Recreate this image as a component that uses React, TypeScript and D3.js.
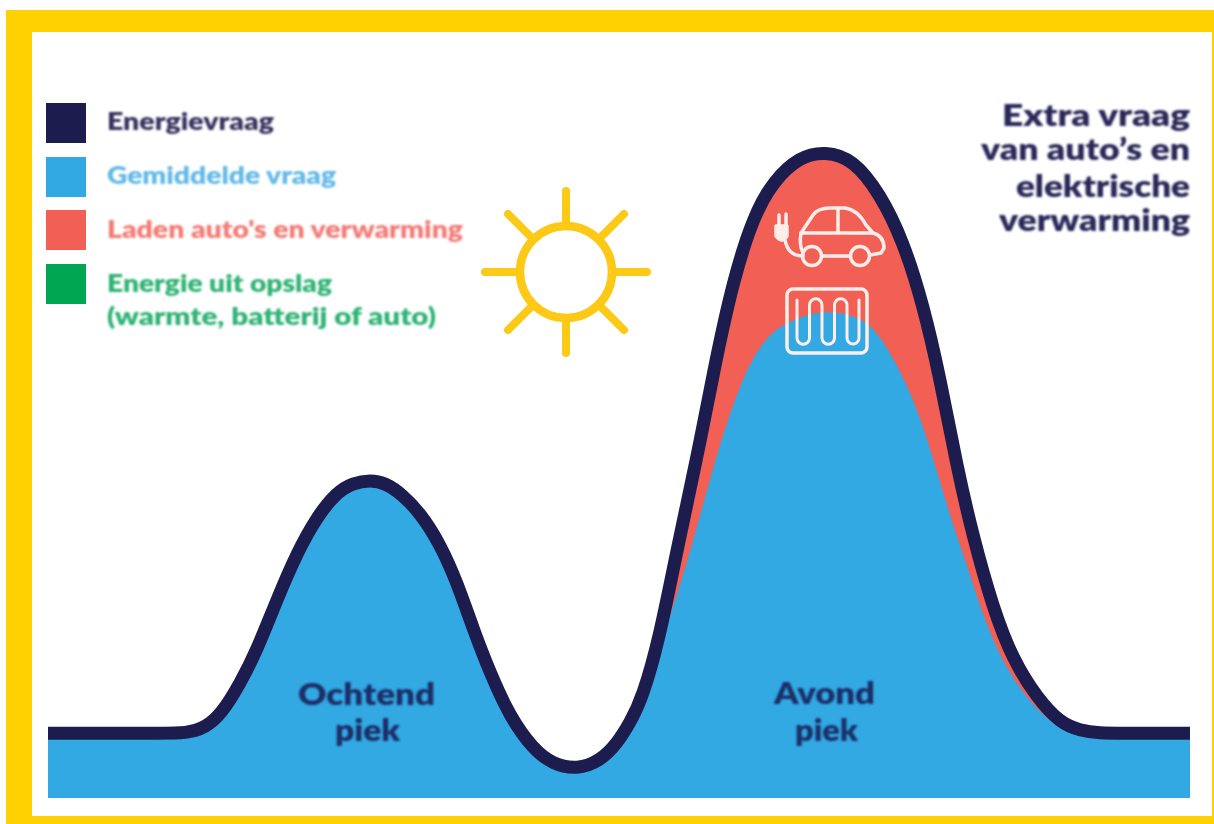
import React from "react";
import * as d3 from "d3";

const demandHours = [0, 1.2, 2.4, 2.9, 3.3, 3.65, 4.04, 4.39, 4.81, 5.23, 5.65, 6.07, 6.4, 6.77, 7.1, 7.45, 7.82, 8.24, 8.6, 8.93, 9.29, 9.71, 10.19, 10.61, 11.12, 11.6, 11.96, 12.23, 12.5, 12.86, 13.22, 13.64, 14.02, 14.4, 14.82, 15.24, 15.8, 16.33, 16.92, 17.49, 17.97, 18.39, 18.75, 19.1, 19.44, 19.86, 20.28, 20.79, 21.27, 21.69, 22.1, 22.6, 23.3, 24];
const demandValues = [10, 10, 10, 10, 10.8, 13, 17.7, 22.8, 30.6, 37.8, 43.4, 47.2, 48.6, 49.1, 48.6, 46.8, 44, 39.2, 33.2, 26.2, 19.3, 12.5, 7.6, 5.2, 4.4, 5.7, 8.4, 11.6, 15.6, 25, 38.4, 52.5, 67.1, 79.9, 89.7, 95.2, 99, 99.8, 98.6, 93.2, 86, 76.2, 64.7, 51.2, 40.3, 29.3, 21.3, 15.4, 11.6, 10.4, 10, 10, 10, 10];

const averageEveningHours = [12.5, 12.76, 13.07, 13.45, 13.98, 14.4, 14.82, 15.24, 15.55, 15.95, 16.45, 16.92, 17.34, 17.84, 18.26, 18.6, 18.96, 19.31, 19.73, 20.22, 20.64, 21.16, 21.69, 22.1, 22.6, 23.3, 24];
const averageEveningValues = [14.6, 20.5, 28.1, 36.6, 51.2, 61, 68.4, 72.1, 73.4, 74.6, 75.2, 74.4, 73, 67, 60.3, 52.5, 43.4, 36, 26.2, 19, 14.8, 11, 10, 10, 10, 10, 10];

const legendLabels = ["Energievraag", "Gemiddelde vraag", "Laden auto's en verwarming", "Energie uit opslag"];
const legendNote = "(warmte, batterij of auto)";
const extraLines = ["Extra vraag", "van auto’s en", "elektrische", "verwarming"];

const NAVY = "#1f1a4f";
const BLUE = "#31a9e3";
const RED = "#f15f55";
const GREEN = "#00a651";
const YELLOW = "#ffd100";
const SUN = "#fbc916";
const FONT = "Lato, 'Open Sans', sans-serif";

type P = [number, number];
const demand: P[] = demandHours.map((h, i) => [h, demandValues[i]]);
const morningCount = demandHours.findIndex((h) => h >= 12.5);
const average: P[] = [
  ...demand.slice(0, morningCount),
  ...averageEveningHours.map((h, i): P => [h, averageEveningValues[i]]),
];

const x = d3.scaleLinear().domain([0, 24]).range([48, 1190]);
const y = d3.scaleLinear().domain([0, 100]).range([798, 150]);
const curve = d3.curveBasis;
const areaGen = d3.area<P>().x((d) => x(d[0])).y0(y(0)).y1((d) => y(d[1])).curve(curve);
const lineGen = d3.line<P>().x((d) => x(d[0])).y((d) => y(d[1])).curve(curve);

const legendColors = [NAVY, BLUE, RED, GREEN];
const legendTextColors = ["#37325f", "#62b9e8", "#f47a74", "#2fb274"];
const legendTops = [103, 157, 210, 264];
const legendWidths = [167, 229, 356, 225];
const legendBase = [130, 184, 238, 292];
const extraBase = [126, 160, 197, 231];
const extraWidths = [188, 209, 174, 191];

const sunAngles = d3.range(0, 360, 45);

function Sun() {
  const cx = 566, cy = 272;
  return (
    <g stroke={SUN} fill="none" strokeLinecap="round">
      <circle cx={cx} cy={cy} r={46} strokeWidth={8.5} fill="#fff" />
      {sunAngles.map((a) => {
        const t = (a * Math.PI) / 180;
        const diag = a % 90 !== 0;
        const r0 = diag ? 50 : 47;
        const r1 = diag ? 82 : 81;
        return (
          <line key={a} x1={cx + r0 * Math.cos(t)} y1={cy + r0 * Math.sin(t)} x2={cx + r1 * Math.cos(t)} y2={cy + r1 * Math.sin(t)} strokeWidth={8} />
        );
      })}
    </g>
  );
}

function Icons() {
  return (
    <g fill="none" stroke="#fdeeea" strokeWidth={3.5} strokeLinecap="round" strokeLinejoin="round">
      <path d="M803 253 Q799 245 801 233 L813 215 Q818 208 830 208 L845 208 Q858 210 866 225 L873 233 Q884 236 884 248 L881 253 L870 255" />
      <path d="M801 233 L873 233 M838 208 L838 233 M822 256 L850 256" />
      <circle cx={812} cy={256} r={9.5} />
      <circle cx={860} cy={256} r={9.5} />
      <path d="M785 240 Q788 256 803 256" />
      <path d="M776 226 L787 226 L787 236 Q782 244 776 236 Z" fill="#fdeeea" />
      <path d="M779 215 L779 226 M786 214 L786 226" />
      <rect x={787} y={289} width={80} height={64} rx={6} />
      <path
        d="M797 300 V338 A6.25 6.25 0 0 0 809.5 338 V305 A6.25 6.25 0 0 1 822 305 V338 A6.25 6.25 0 0 0 834.5 338 V305 A6.25 6.25 0 0 1 847 305 V338 A6 6 0 0 0 859 338 V300"
        strokeWidth={3}
      />
    </g>
  );
}

export default function App() {
  const textStyle = { fontFamily: FONT, fontWeight: 800 } as const;
  return (
    <svg width={1214} height={824} style={{ position: "fixed", left: 0, top: 0, display: "block", background: "#fff" }}>
      <defs>
        <filter id="soft" x="0" y="0" width="100%" height="100%">
          <feGaussianBlur stdDeviation="0.7" />
        </filter>
        <filter id="softText" x="-5%" y="-20%" width="110%" height="140%">
          <feGaussianBlur stdDeviation="1" />
        </filter>
      </defs>
      <g filter="url(#soft)">
        <rect width={1214} height={824} fill="#fff" />
        <rect x={6} y={10} width={1208} height={22} fill={YELLOW} />
        <rect x={6} y={10} width={26} height={814} fill={YELLOW} />
        <rect x={6} y={816} width={1208} height={8} fill={YELLOW} />
        <rect x={1212} y={10} width={2} height={814} fill={YELLOW} />

        {legendColors.map((c, i) => (
          <rect key={c} x={46} y={legendTops[i]} width={40} height={40} fill={c} />
        ))}

        <Sun />

        <path d={areaGen(demand) ?? ""} fill={RED} />
        <path d={areaGen(average) ?? ""} fill={BLUE} />
        <path d={lineGen(demand) ?? ""} fill="none" stroke={NAVY} strokeWidth={13} />
        <Icons />
      </g>
      <g filter="url(#softText)">
        {legendLabels.map((t, i) => (
          <text key={t} x={107} y={legendBase[i]} fontSize={24} fill={legendTextColors[i]} style={textStyle} textLength={legendWidths[i]} lengthAdjust="spacingAndGlyphs">
            {t}
          </text>
        ))}
        <text x={107} y={325} fontSize={24} fill={legendTextColors[3]} style={textStyle} textLength={329} lengthAdjust="spacingAndGlyphs">
          {legendNote}
        </text>
        {extraLines.map((t, i) => (
          <text key={t} x={1190 - extraWidths[i]} y={extraBase[i]} fontSize={30} fill="#2a2858" style={textStyle} textLength={extraWidths[i]} lengthAdjust="spacingAndGlyphs">
            {t}
          </text>
        ))}
        <text x={298} y={705} fontSize={30} fill="#1c2f68" style={textStyle} textLength={137} lengthAdjust="spacingAndGlyphs">Ochtend</text>
        <text x={335} y={741} fontSize={30} fill="#1c2f68" style={textStyle} textLength={65} lengthAdjust="spacingAndGlyphs">piek</text>
        <text x={774} y={704} fontSize={30} fill="#1c2f68" style={textStyle} textLength={101} lengthAdjust="spacingAndGlyphs">Avond</text>
        <text x={795} y={741} fontSize={30} fill="#1c2f68" style={textStyle} textLength={63} lengthAdjust="spacingAndGlyphs">piek</text>
      </g>
    </svg>
  );
}
